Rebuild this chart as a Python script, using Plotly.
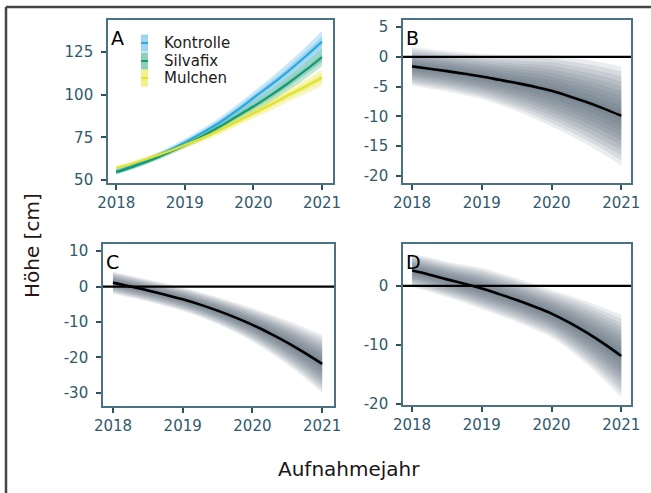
import plotly.graph_objects as go

W, H = 651, 493

years = [2018, 2018.25, 2018.5, 2018.75, 2019, 2019.25, 2019.5, 2019.75,
         2020, 2020.25, 2020.5, 2020.75, 2021]

# Panel A: predicted height per treatment (mean, half width of interval)
kontrolle_mean = [55, 58.5, 62.5, 67, 72, 77.5, 83.5, 90.5, 98, 105.5, 113.5, 122, 131]
kontrolle_half = [1.5, 1.6, 1.7, 1.9, 2.1, 2.4, 2.8, 3.2, 3.7, 4.2, 4.8, 5.5, 6.2]
silvafix_mean = [54.5, 57.8, 61.5, 65.8, 70.5, 75.5, 81, 87, 93, 99.5, 106.5, 114, 122]
silvafix_half = [1.4, 1.5, 1.6, 1.8, 2.0, 2.3, 2.6, 3.0, 3.4, 3.8, 4.3, 4.8, 5.4]
mulchen_mean = [57, 59.8, 63, 66.5, 70.5, 74.5, 79, 84, 89, 94, 99.5, 104.5, 110]
mulchen_half = [1.4, 1.5, 1.6, 1.7, 1.9, 2.1, 2.4, 2.7, 3.0, 3.4, 3.8, 4.2, 4.7]
treatments = ["Kontrolle", "Silvafix", "Mulchen"]

# Panels B, C, D: differences (mean, half width of outer interval)
b_mean = [-1.6, -2.0, -2.4, -2.85, -3.3, -3.85, -4.4, -5.0, -5.7, -6.6, -7.6, -8.7, -9.9]
b_half = [3.2, 3.3, 3.4, 3.6, 3.8, 4.2, 4.7, 5.3, 6.0, 6.5, 7.1, 7.7, 8.3]
c_mean = [1.1, 0.0, -1.1, -2.3, -3.6, -5.1, -6.8, -8.7, -10.8, -13.2, -15.8, -18.7, -21.8]
c_half = [3.1, 3.1, 3.1, 3.2, 3.3, 3.5, 3.8, 4.2, 4.7, 5.4, 6.2, 7.1, 8.2]
d_mean = [2.6, 1.9, 1.1, 0.35, -0.45, -1.4, -2.4, -3.5, -4.7, -6.2, -7.9, -9.8, -11.9]
d_half = [2.8, 2.9, 3.0, 3.2, 3.5, 3.6, 3.7, 3.85, 4.0, 4.6, 5.3, 6.1, 7.0]

x_ticks = [2018, 2019, 2020, 2021]
x_ticklabels = ["2018", "2019", "2020", "2021"]
a_ticks = [50, 75, 100, 125]
a_ticklabels = ["50", "75", "100", "125"]
b_ticks = [5, 0, -5, -10, -15, -20]
b_ticklabels = ["5", "0", "-5", "-10", "-15", "-20"]
c_ticks = [10, 0, -10, -20, -30]
c_ticklabels = ["10", "0", "-10", "-20", "-30"]
d_ticks = [0, -10, -20]
d_ticklabels = ["0", "-10", "-20"]

panel_labels = ["A", "B", "C", "D"]
# quantile levels of the nested ribbons (fractions of outer half width)
levels = [1.0, 0.9, 0.8, 0.7, 0.6, 0.5, 0.4, 0.3, 0.2, 0.1]

line_colors = ["#2aa9e0", "#159a72", "#e2e22a"]
band_colors = ["rgba(60,170,225,0.28)", "rgba(30,160,120,0.28)", "rgba(230,230,50,0.30)"]
legend_fill = ["rgba(60,170,225,0.5)", "rgba(30,160,120,0.5)", "rgba(230,230,50,0.55)"]

fig = go.Figure()


def band(x, mean, half, frac, color, xa, ya):
    up = [m + frac * h for m, h in zip(mean, half)]
    lo = [m - frac * h for m, h in zip(mean, half)]
    fig.add_trace(go.Scatter(
        x=x, y=lo, mode="lines", line=dict(width=0, shape="spline"),
        hoverinfo="skip", showlegend=False, xaxis=xa, yaxis=ya))
    fig.add_trace(go.Scatter(
        x=x, y=up, mode="lines", fill="tonexty", fillcolor=color,
        line=dict(width=0, shape="spline"),
        hoverinfo="skip", showlegend=False, xaxis=xa, yaxis=ya))


# Panel A
a_data = [(kontrolle_mean, kontrolle_half), (silvafix_mean, silvafix_half),
          (mulchen_mean, mulchen_half)]
for (m, h), bc in zip(a_data, band_colors):
    band(years, m, h, 1.0, bc, "x", "y")
    band(years, m, h, 0.5, bc, "x", "y")
for (m, h), lc, name in zip(a_data, line_colors, treatments):
    fig.add_trace(go.Scatter(x=years, y=m, mode="lines", name=name,
                             line=dict(color=lc, width=2.2, shape="spline"),
                             showlegend=False, xaxis="x", yaxis="y"))

# Panels B, C, D
for (m, h), xa, ya in [((b_mean, b_half), "x2", "y2"),
                       ((c_mean, c_half), "x3", "y3"),
                       ((d_mean, d_half), "x4", "y4")]:
    for f in levels:
        band(years, m, h, f, "rgba(70,88,102,0.115)", xa, ya)
    fig.add_trace(go.Scatter(x=years, y=m, mode="lines",
                             line=dict(color="black", width=2.6, shape="spline"),
                             showlegend=False, xaxis=xa, yaxis=ya))
    fig.add_shape(type="line", xref=xa + " domain", yref=ya,
                  x0=0, x1=1, y0=0, y1=0,
                  line=dict(color="black", width=2.2))


def px_x(p):
    return p / W


def px_y(p):
    return 1 - p / H


spine = "#4a7282"
tickc = "#2e5060"
labc = "#30596b"
axis_common = dict(showline=True, linecolor=spine, linewidth=1.6, mirror=True,
                   ticks="outside", ticklen=5, tickwidth=2, tickcolor=tickc,
                   showgrid=False, zeroline=False,
                   tickfont=dict(family="DejaVu Sans", size=15, color=labc))

domains = {
    "1": ([108, 333], [20, 183], [2017.88, 2021.16], [48.2, 143.7], a_ticks, a_ticklabels),
    "2": ([403, 631], [20, 183], [2017.87, 2021.14], [-21.2, 6.2], b_ticks, b_ticklabels),
    "3": ([103, 334], [244, 406], [2017.857, 2021.17], [-33.7, 12.0], c_ticks, c_ticklabels),
    "4": ([403, 631], [244, 405], [2017.87, 2021.14], [-20.2, 7.1], d_ticks, d_ticklabels),
}
lay = {}
for k, (dx, dy, xr, yr, yt, ytl) in domains.items():
    xn = "xaxis" if k == "1" else "xaxis" + k
    yn = "yaxis" if k == "1" else "yaxis" + k
    xid = "x" if k == "1" else "x" + k
    yid = "y" if k == "1" else "y" + k
    lay[xn] = dict(axis_common, domain=[px_x(dx[0]), px_x(dx[1])], range=xr,
                   anchor=yid, tickvals=x_ticks, ticktext=x_ticklabels)
    lay[yn] = dict(axis_common, domain=[px_y(dy[1]), px_y(dy[0])], range=yr,
                   anchor=xid, tickvals=yt, ticktext=ytl, ticklabelstandoff=5)
fig.update_layout(**lay)

# panel letters
for lab, k in zip(panel_labels, ["", "2", "3", "4"]):
    fig.add_annotation(text=lab, xref="x" + k + " domain", yref="y" + k + " domain",
                       x=0.005, y=1.0, xanchor="left", yanchor="top", showarrow=False,
                       yshift=-5, font=dict(family="DejaVu Sans", size=19, color="black"))

# legend of panel A
leg_rows = [43, 61, 78]
for name, lc, lf, ry in zip(treatments, line_colors, legend_fill, leg_rows):
    fig.add_shape(type="rect", xref="paper", yref="paper",
                  x0=px_x(141), x1=px_x(148), y0=px_y(ry + 8.5), y1=px_y(ry - 8.5),
                  fillcolor=lf, line=dict(width=0))
    fig.add_shape(type="line", xref="paper", yref="paper",
                  x0=px_x(141), x1=px_x(148), y0=px_y(ry), y1=px_y(ry),
                  line=dict(color=lc, width=2))
    fig.add_annotation(text=name, xref="paper", yref="paper", x=px_x(162), y=px_y(ry),
                       xanchor="left", yanchor="middle", showarrow=False,
                       font=dict(family="DejaVu Sans", size=15, color="#221a1a"))

# axis titles
fig.add_annotation(text="Höhe [cm]", xref="paper", yref="paper", x=px_x(32), y=px_y(246),
                   textangle=-90, showarrow=False, xanchor="center", yanchor="middle",
                   font=dict(family="DejaVu Sans", size=20, color="#2a1414"))
fig.add_annotation(text="Aufnahmejahr", xref="paper", yref="paper", x=px_x(349), y=px_y(469),
                   showarrow=False, xanchor="center", yanchor="middle",
                   font=dict(family="DejaVu Sans", size=20, color="#1a1414"))

# outer frame
fig.add_shape(type="line", xref="paper", yref="paper", x0=px_x(6), x1=1.0,
              y0=px_y(7), y1=px_y(7), line=dict(color="#454545", width=2.5))
fig.add_shape(type="line", xref="paper", yref="paper", x0=px_x(6), x1=px_x(6),
              y0=0, y1=px_y(7), line=dict(color="#454545", width=2.5))

fig.update_layout(width=W, height=H, margin=dict(l=0, r=0, t=0, b=0),
                  paper_bgcolor="white", plot_bgcolor="white",
                  showlegend=False, template="none")

fig.write_html("out.html")
